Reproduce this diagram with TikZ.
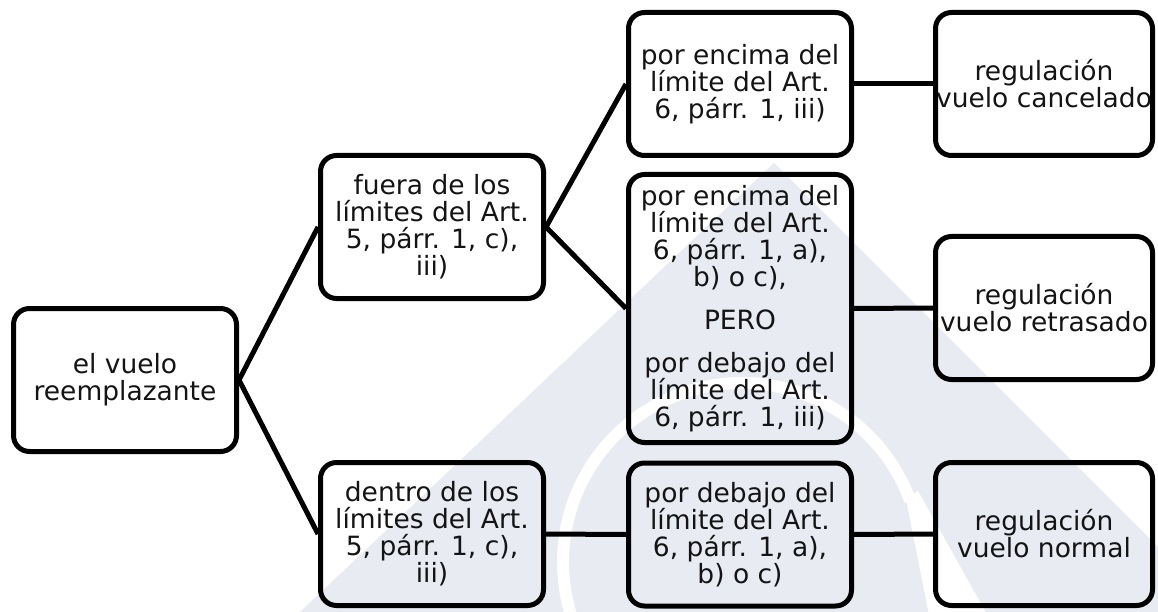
\documentclass[tikz,border=0pt]{standalone}
\usepackage{fontspec}
\setmainfont{DejaVu Sans}
\definecolor{wmark}{RGB}{232,235,242}
\begin{document}
\begin{tikzpicture}[x=1pt,y=-1pt,
  box/.style={draw=black, line width=5pt, rounded corners=16pt,
    minimum width=223pt, minimum height=143pt, inner sep=0pt,
    align=center, font=\fontsize{26.5}{27}\selectfont, text=black!92},
  link/.style={draw=black, line width=5pt}]
\useasboundingbox (0,0) rectangle (1158,612);
% watermark
\begin{scope}
\clip (0,0) rectangle (1158,612);
\fill[wmark] (774,163) -- (1230,619) -- (300,612) -- cycle;
\draw[white, line width=12pt] (910.2,500.8) arc[start angle=20, end angle=205, radius=179pt];
\fill[white] (906,499) -- (918,491) -- (990,620) -- (930,620) -- cycle;
\end{scope}
% nodes
\node[box] (A) at (125,380) {el vuelo\\reemplazante};
\node[box] (B) at (432,227) {fuera de los\\límites del Art.\\5, párr. 1, c),\\iii)};
\node[box] (C) at (432,534) {dentro de los\\límites del Art.\\5, párr. 1, c),\\iii)};
\node[box] (D) at (740,84) {por encima del\\límite del Art.\\6, párr. 1, iii)};
\node[box, minimum height=268pt] (E) at (740,308.5) {por encima del\\límite del Art.\\6, párr. 1, a),\\b) o c),\\[16pt]PERO\\[16pt]por debajo del\\límite del Art.\\6, párr. 1, iii)};
\node[box] (F) at (740,534.5) {por debajo del\\límite del Art.\\6, párr. 1, a),\\b) o c)};
\node[box, minimum width=217pt] (G) at (1044,84) {regulación\\vuelo cancelado};
\node[box, minimum width=217pt] (H) at (1044,308) {regulación\\vuelo retrasado};
\node[box, minimum width=217pt] (I) at (1044,534) {regulación\\vuelo normal};
% connectors
\draw[link] (A.east) -- (B.west);
\draw[link] (A.east) -- (C.west);
\draw[link] (B.east) -- (D.west);
\draw[link] (B.east) -- (E.west);
\draw[link] (C.east) -- (F.west);
\draw[link] (D.east) -- (G.west);
\draw[link] (E.east) -- (H.west);
\draw[link] (F.east) -- (I.west);
\end{tikzpicture}
\end{document}
